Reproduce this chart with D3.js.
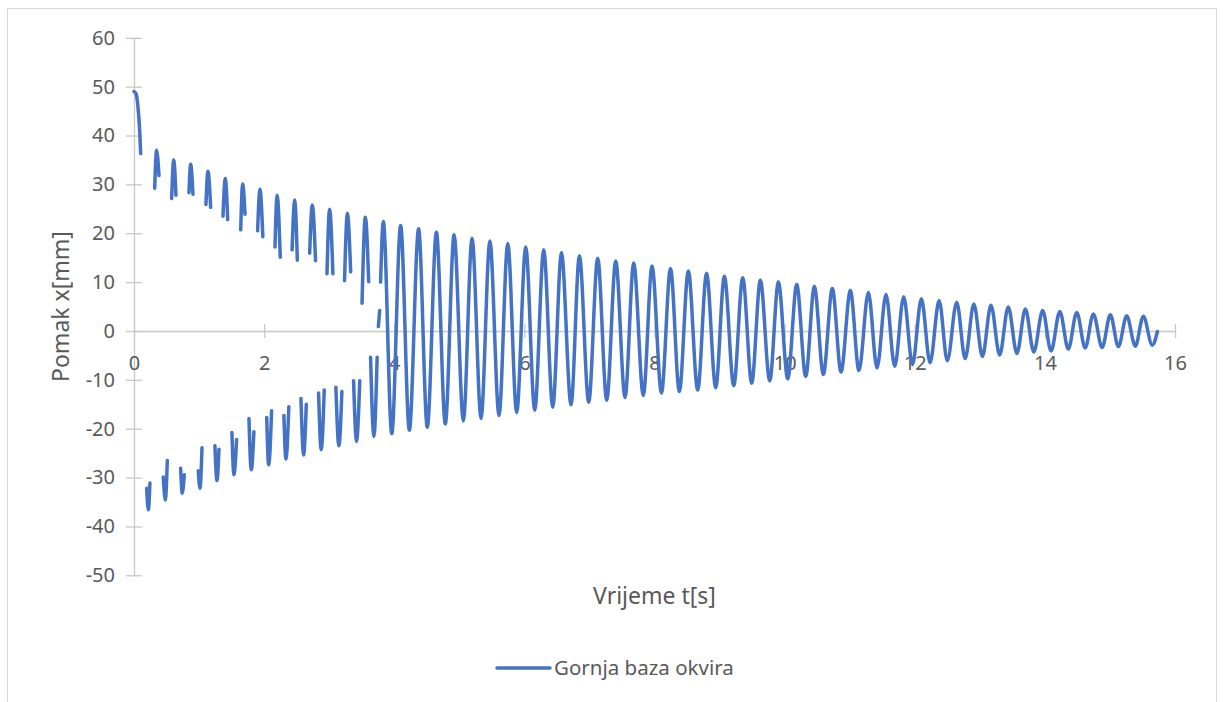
<!DOCTYPE html>
<html>
<head>
<meta charset="utf-8">
<script src="https://cdn.jsdelivr.net/npm/d3@7"></script>
<style>
  body { margin: 0; background: #fff; }
  svg { display: block; font-family: "Noto Sans", "Open Sans", sans-serif; }
  .axis text { fill: #595959; font-size: 20px; }
  .axis path, .axis line { stroke: #c8c8c8; stroke-width: 1.3px; }
</style>
</head>
<body>
<svg width="1223" height="702"></svg>
<script>
const xTicks = [0, 2, 4, 6, 8, 10, 12, 14, 16];
const yTicks = [-50, -40, -30, -20, -10, 0, 10, 20, 30, 40, 50, 60];
const xTitle = "Vrijeme t[s]";
const yTitle = "Pomak x[mm]";
const seriesName = "Gornja baza okvira";

// [t s, x mm], null rows are empty cells (gaps in the line)
const mjerenja = [
  [0.000, 49.0], [0.030, 48.6], [0.060, 46.0], [0.085, 41.5], [0.103, 36.3], [0.150, null],
  [0.195, -32.2], [0.220, -36.6], [0.245, -31.1], [0.280, null],
  [0.318, 29.2], [0.347, 37.0], [0.384, 31.8], [0.420, null],
  [0.450, -29.9], [0.481, -34.6], [0.512, -26.5], [0.545, null],
  [0.579, 27.1], [0.610, 35.0], [0.645, 27.8], [0.680, null],
  [0.717, -28.1], [0.742, -33.2], [0.773, -29.4], [0.810, null],
  [0.845, 28.3], [0.871, 34.1], [0.906, 28.0], [0.950, null],
  [0.988, -28.6], [1.014, -32.2], [1.045, -23.9], [1.075, null],
  [1.106, 25.9], [1.137, 32.7], [1.178, 25.3], [1.210, null],
  [1.244, -23.5], [1.275, -30.6], [1.306, -24.2], [1.340, null],
  [1.368, 23.5], [1.403, 31.2], [1.440, 22.8], [1.470, null],
  [1.505, -20.8], [1.536, -29.4], [1.577, -22.2], [1.610, null],
  [1.640, 20.7], [1.670, 30.1], [1.706, 23.9], [1.735, null],
  [1.767, -17.9], [1.802, -28.4], [1.843, -20.6], [1.870, null],
  [1.900, 20.5], [1.936, 29.0], [1.980, 19.3], [2.010, null],
  [2.040, -17.7], [2.070, -27.4], [2.115, -16.3], [2.140, null],
  [2.167, 17.2], [2.200, 27.8], [2.248, 15.1], [2.275, null],
  [2.304, -17.3], [2.335, -26.2], [2.380, -15.5], [2.405, null],
  [2.430, 16.6], [2.470, 26.8], [2.510, 14.5], [2.540, null],
  [2.566, -13.8], [2.607, -25.4], [2.648, -15.0], [2.675, null],
  [2.700, 15.9], [2.740, 25.8], [2.790, 14.4], [2.815, null],
  [2.837, -12.7], [2.877, -24.3], [2.924, -12.1], [2.945, null],
  [2.966, 11.7], [3.006, 24.9], [3.057, 11.7], [3.080, null],
  [3.103, -11.5], [3.149, -23.5], [3.195, -12.4], [3.215, null],
  [3.236, 10.3], [3.280, 24.1], [3.330, 12.1], [3.352, null],
  [3.375, -10.2], [3.420, -22.6], [3.470, -10.2], [3.488, null],
  [3.505, 5.7], [3.556, 23.3], [3.607, 10.1], [3.620, null],
  [3.636, -5.4], [3.687, -21.6], [3.737, -5.4], [3.746, null],
  [3.756, 0.9], [3.776, 4.2], [3.783, null],
  [3.790, 10.0], [3.832, 22.4], [3.962, -21.0], [4.098, 21.6], [4.232, -20.3],
  [4.374, 20.9], [4.508, -19.7], [4.648, 20.2], [4.785, -19.0], [4.920, 19.7],
  [5.062, -18.4], [5.196, 19.0], [5.334, -17.9], [5.470, 18.4], [5.610, -17.3],
  [5.745, 17.9], [5.882, -16.7], [6.021, 17.2], [6.159, -16.2], [6.297, 16.6],
  [6.436, -15.6], [6.570, 16.0], [6.717, -15.1], [6.846, 15.4], [6.989, -14.6],
  [7.127, 14.9], [7.266, -14.2], [7.404, 14.3], [7.547, -13.6], [7.680, 13.9],
  [7.828, -13.2], [7.962, 13.3], [8.107, -12.7], [8.246, 12.8], [8.382, -12.4],
  [8.520, 12.3], [8.664, -12.1], [8.800, 11.8], [8.941, -11.6], [9.074, 11.2],
  [9.218, -11.2], [9.356, 10.9], [9.494, -10.7], [9.627, 10.4], [9.771, -10.2],
  [9.904, 10.0], [10.048, -9.8], [10.186, 9.5], [10.324, -9.3], [10.457, 9.1],
  [10.595, -8.9], [10.733, 8.7], [10.867, -8.4], [11.010, 8.3], [11.143, -8.1],
  [11.287, 7.9], [11.420, -7.6], [11.558, 7.45], [11.692, -7.25], [11.830, 7.0],
  [11.965, -6.85], [12.102, 6.6], [12.235, -6.5], [12.375, 6.25], [12.500, -6.1],
  [12.645, 5.9], [12.775, -5.65], [12.908, 5.5], [13.040, -5.2], [13.171, 5.25],
  [13.305, -4.9], [13.437, 4.9], [13.570, -4.6], [13.700, 4.5], [13.830, -4.3],
  [13.966, 4.2], [14.095, -4.1], [14.230, 4.0], [14.360, -3.7], [14.490, 3.8],
  [14.620, -3.5], [14.745, 3.5], [14.880, -3.4], [15.006, 3.3], [15.130, -3.2],
  [15.258, 3.1], [15.390, -3.1], [15.513, 3.0], [15.650, -2.9], [15.730, -0.1]
];

const svg = d3.select("svg");

svg.append("rect")
  .attr("x", 7.5).attr("y", 8.5)
  .attr("width", 1209).attr("height", 720)
  .attr("fill", "#fff").attr("stroke", "#d9d9d9");

const x = d3.scaleLinear().domain([0, 16]).range([134, 1175]);
const y = d3.scaleLinear().domain([-50, 60]).range([575.3, 37.8]);

// plain hyphen for negatives, like the original
const fmt = d => String(d);

// y axis, ticks crossing the line like Excel
const yAxis = svg.append("g").attr("class", "axis")
  .attr("transform", `translate(${x(0)},0)`)
  .call(d3.axisLeft(y).tickValues(yTicks).tickFormat(fmt).tickSizeOuter(0));
yAxis.selectAll(".tick line").attr("x1", 8).attr("x2", -8);
yAxis.selectAll(".tick text").attr("x", -19);

const xAxis = svg.append("g").attr("class", "axis")
  .attr("transform", `translate(0,${y(0)})`)
  .call(d3.axisBottom(x).tickValues(xTicks).tickFormat(fmt).tickSizeOuter(0));
xAxis.selectAll(".tick line").attr("y1", -7).attr("y2", 7);
xAxis.selectAll(".tick text").attr("y", 25);
svg.selectAll(".axis").attr("font-family", null).attr("font-size", null);

const line = d3.line()
  .defined(d => d[1] !== null)
  .x(d => x(d[0]))
  .y(d => y(d[1]))
  .curve(d3.curveMonotoneX);

svg.append("path")
  .datum(mjerenja)
  .attr("d", line)
  .attr("fill", "none")
  .attr("stroke", "#4472c4")
  .attr("stroke-width", 3.5)
  .attr("stroke-linecap", "round")
  .attr("stroke-linejoin", "round");

svg.append("text")
  .attr("x", (x(0) + x(16)) / 2).attr("y", 604)
  .attr("text-anchor", "middle")
  .attr("fill", "#595959").attr("font-size", 23)
  .text(xTitle);

svg.append("text")
  .attr("transform", `translate(69,${(y(60) + y(-50)) / 2}) rotate(-90)`)
  .attr("text-anchor", "middle")
  .attr("fill", "#595959").attr("font-size", 23)
  .text(yTitle);

// legend
svg.append("line")
  .attr("x1", 497).attr("x2", 550).attr("y1", 668).attr("y2", 668)
  .attr("stroke", "#4472c4").attr("stroke-width", 3.5)
  .attr("stroke-linecap", "round");
svg.append("text")
  .attr("x", 554).attr("y", 675)
  .attr("fill", "#595959").attr("font-size", 20.5)
  .text(seriesName);
</script>
</body>
</html>
